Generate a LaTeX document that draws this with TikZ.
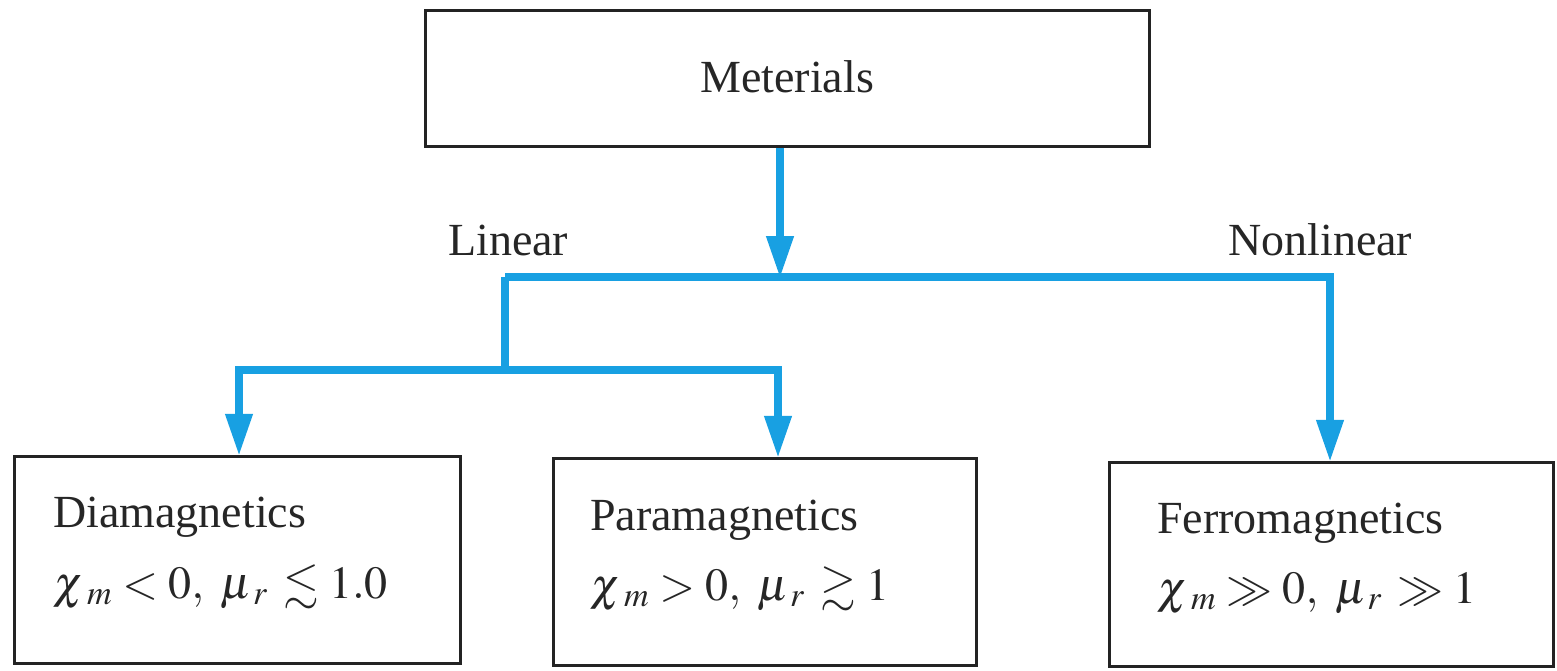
\documentclass[tikz,border=0pt]{standalone}
\usepackage{amssymb}
\usepackage{mathptmx}
\usepackage{fontspec}
\setmainfont{Liberation Serif}
\usetikzlibrary{arrows.meta}
\definecolor{cblue}{RGB}{24,160,226}
\definecolor{cbox}{RGB}{35,35,35}
\newcommand{\mur}{{\mu}_{\mkern2.5mu r}\mkern2mu}
\newcommand{\chim}{{\chi}_{\mkern4mu m}}
\tikzset{
  boxnode/.style={draw=cbox, line width=3.5pt, inner sep=0pt, rectangle},
  txt/.style={inner sep=0pt, anchor=base west, font=\fontsize{46}{54}\selectfont, text=black!85},
  titletxt/.style={txt, text depth=0pt},
  mathtxt/.style={txt, text height=26pt},
  conn/.style={draw=cblue, line width=7.5pt, line join=miter},
  tip/.style={-{Triangle[width=26pt,length=42pt]}, shorten >=-1pt}
}
\begin{document}
\begin{tikzpicture}[x=1pt,y=-1pt]
\useasboundingbox (0,0) rectangle (1557,670);
% boxes
\node[boxnode, minimum width=724pt, minimum height=136pt] (mat) at (787.5,78.5) {};
\node[boxnode, minimum width=446pt, minimum height=207pt] (dia) at (237.5,560) {};
\node[boxnode, minimum width=423pt, minimum height=207pt] (para) at (765,562) {};
\node[boxnode, minimum width=444pt, minimum height=204pt] (ferro) at (1331.5,564.5) {};
% texts
\node[txt, anchor=base] (tmat) at (787,92) {Meterials};
\node[txt] (tlin) at (448,255) {Linear};
\node[txt] (tnon) at (1228,255) {Nonlinear};
\node[titletxt] (tdia) at (53,527) {Diamagnetics};
\node[mathtxt] (mdia) at (53,598) {$\chim < 0,\ \mur \lesssim 1.0$};
\node[titletxt] (tpara) at (590,530) {Paramagnetics};
\node[mathtxt] (mpara) at (590,600) {$\chim > 0,\ \mur \gtrsim 1$};
\node[titletxt] (tferro) at (1157,533) {Ferromagnetics};
\node[mathtxt] (mferro) at (1157,603) {$\chim \gg 0,\ \mur \gg 1$};
% junctions
\coordinate (j1) at (780,277);
\coordinate (jl) at (505,277);
\coordinate (jr) at (1330,277);
\coordinate (j2) at (505,370);
\coordinate (kl) at (239,370);
\coordinate (kr) at (778,370);
% connectors
\draw[conn, tip] (mat.south -| j1) -- (j1);
\draw[conn, tip] (jl) -- (jr) -- (ferro.north -| jr);
\draw[conn] (jl) -- (j2);
\draw[conn, tip] (j2) -- (kl) -- (dia.north -| kl);
\draw[conn, tip] (j2) -- (kr) -- (para.north -| kr);
\end{tikzpicture}
\end{document}
